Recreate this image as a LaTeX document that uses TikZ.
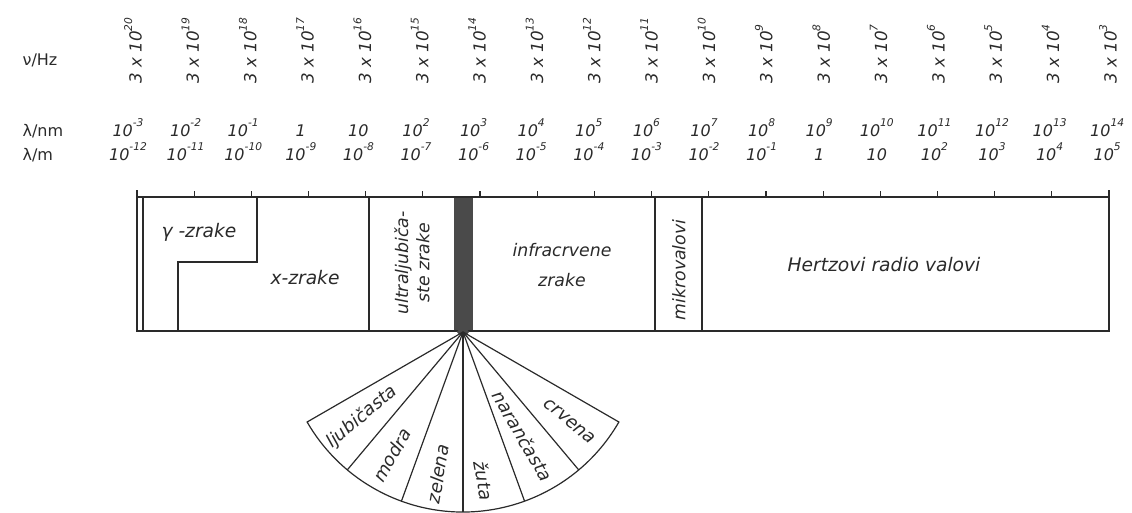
\documentclass[tikz,border=0pt]{standalone}
\usepackage{fontspec}
\setmainfont{DejaVu Sans}
\definecolor{ink}{HTML}{2A2A2A}
\definecolor{band}{HTML}{4A4A4A}
\newcommand\expo[1]{\raisebox{1.05ex}{\fontsize{8}{8}\selectfont #1}}
\begin{document}
\begin{tikzpicture}[x=0.75pt,y=-0.75pt,
  line width=0.9pt, color=ink,
  lab/.style={font=\fontsize{13}{16}\selectfont\itshape, inner sep=0pt, align=center},
  big/.style={font=\fontsize{14}{16}\selectfont\itshape},
  num/.style={font=\fontsize{12}{13}\selectfont\itshape, inner sep=0pt, anchor=base},
  freq/.style={font=\fontsize{12.5}{13}\selectfont\itshape, inner sep=0pt, rotate=90, anchor=west},
  axis/.style={font=\fontsize{12}{14}\selectfont, inner sep=0pt, anchor=west},
  fan/.style={font=\fontsize{13.5}{14}\selectfont\itshape, inner sep=0pt}]
\useasboundingbox (0,0) rectangle (1132,512);
% axis names
\node[axis] (nu) at (22,60) {ν/Hz};
\node[axis] (lnm) at (22,131) {λ/nm};
\node[axis] (lm) at (22,155) {λ/m};
% frequency labels
\foreach \e [count=\i from 0] in {20,19,...,3}
  \node[freq] (f\i) at ({133+57.35*\i},84) {3 x 10\expo{\e}};
% wavelength nm
\foreach \t [count=\i from 0] in {10\expo{-3},10\expo{-2},10\expo{-1},1,10,10\expo{2},10\expo{3},10\expo{4},10\expo{5},10\expo{6},10\expo{7},10\expo{8},10\expo{9},10\expo{10},10\expo{11},10\expo{12},10\expo{13},10\expo{14}}
  \node[num] (n\i) at ({128+57.6*\i},136) {\t};
% wavelength m
\foreach \t [count=\i from 0] in {10\expo{-12},10\expo{-11},10\expo{-10},10\expo{-9},10\expo{-8},10\expo{-7},10\expo{-6},10\expo{-5},10\expo{-4},10\expo{-3},10\expo{-2},10\expo{-1},1,10,10\expo{2},10\expo{3},10\expo{4},10\expo{5}}
  \node[num] (m\i) at ({128+57.6*\i},160) {\t};
% bar
\coordinate (TL) at (137,197);
\coordinate (TR) at (1109,197);
\coordinate (BL) at (137,331);
\coordinate (BR) at (1109,331);
\fill[band] (454,197) rectangle (473,331);
\draw (137,190) -- (BL) -- (BR) -- (1109,190);
\draw (TL) -- (TR);
\draw (143,197) -- (143,331);
\foreach \i in {1,...,16} \draw ({137+57.176*\i},197) -- ++(0,-6);
\draw (257,197) -- (257,262) -- (178,262) -- (178,331);
\draw (369,197) -- (369,331);
\draw (655,197) -- (655,331);
\draw (702,197) -- (702,331);
% region labels
\node[lab, big] (gam) at (199,232) {γ -zrake};
\node[lab, big] (xz) at (305,278) {x-zrake};
\node[lab, rotate=90] (uv) at (412,263) {ultraljubiča-\\ste zrake};
\node[lab, font=\fontsize{13}{23}\selectfont\itshape] (ir) at (562,265) {infracrvene\\zrake};
\node[lab, rotate=90] (mw) at (679,270) {mikrovalovi};
\node[lab, big] (hz) at (884,265) {Hertzovi radio valovi};
% fan
\coordinate (apex) at (463,332);
\fill[band] (apex) ellipse [x radius=6, y radius=3];
\draw (apex) -- ++(30:180) arc[start angle=30, end angle=150, radius=180] -- cycle;
\foreach \a in {50,70,90,110,130} \draw (apex) -- ++(\a:180);
\node[fan, rotate=40] (c1) at ([shift={(140:132)}]apex) {ljubičasta};
\node[fan, rotate=60] (c2) at ([shift={(120:142)}]apex) {modra};
\node[fan, rotate=80] (c3) at ([shift={(100:144)}]apex) {zelena};
\node[fan, rotate=-80] (c4) at ([shift={(82:150)}]apex) {žuta};
\node[fan, rotate=-60] (c5) at ([shift={(60:120)}]apex) {narančasta};
\node[fan, rotate=-40] (c6) at ([shift={(40:139)}]apex) {crvena};
\end{tikzpicture}
\end{document}
